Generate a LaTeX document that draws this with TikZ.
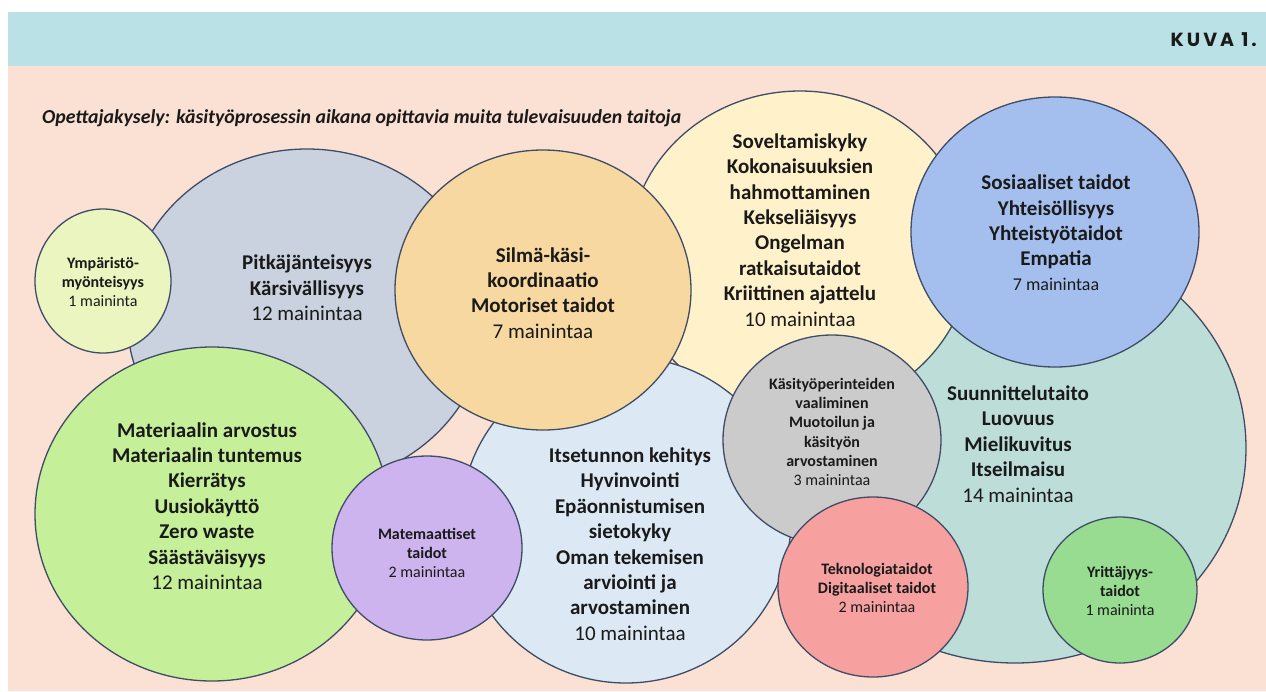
\documentclass[tikz,border=0pt]{standalone}
\usepackage{fontspec}
\setmainfont{Carlito}
\newfontfamily\kuvafont[LetterSpace=16]{Poppins}
\definecolor{hdr}{HTML}{BAE2E6}
\definecolor{bg}{HTML}{FAE1D4}
\definecolor{outl}{HTML}{3E4C66}
\definecolor{txt}{HTML}{1A1A1A}
\definecolor{cteal}{HTML}{BCDDD8}
\definecolor{cyel}{HTML}{FFF1C9}
\definecolor{cgreyb}{HTML}{C9D2DE}
\definecolor{cymp}{HTML}{EBF5C0}
\definecolor{cgreen}{HTML}{C5EF98}
\definecolor{clblue}{HTML}{DCE9F5}
\definecolor{corange}{HTML}{F6D8A0}
\definecolor{cpurple}{HTML}{CDB4EF}
\definecolor{cblue}{HTML}{A4BFEE}
\definecolor{cgreys}{HTML}{CBCBCB}
\definecolor{cpink}{HTML}{F6A0A0}
\definecolor{cyrit}{HTML}{98DC92}
\begin{document}
\begin{tikzpicture}[x=1pt,y=-1pt,
  circ/.style={draw=outl, line width=1.3pt},
  bigtext/.style={align=center, inner sep=0pt, text=txt, font=\fontsize{21pt}{25.4pt}\selectfont\bfseries},
  smalltext/.style={align=center, inner sep=0pt, text=txt, font=\fontsize{16pt}{19.3pt}\selectfont\bfseries}]
\useasboundingbox (0,0) rectangle (1266,691);
\fill[white] (0,0) rectangle (1266,691);
\fill[hdr] (8,12) rectangle (1266,66);
\fill[bg] (8,66) rectangle (1266,691);
\node[anchor=east, inner sep=0pt, text=txt, font=\kuvafont\fontsize{19pt}{22pt}\selectfont\bfseries] (kuva) at (1257,40) {KUVA 1.};
\node[anchor=west, inner sep=0pt, text=txt, font=\fontsize{19.8pt}{23pt}\selectfont\bfseries\itshape] (title) at (42,118) {Opettajakysely: käsityöprosessin aikana opittavia muita tulevaisuuden taitoja};
% circles, back to front
\draw[circ, fill=cteal] (1015,448) ellipse [x radius=231pt, y radius=215pt];
\draw[circ, fill=cyel] (800,252) ellipse [x radius=171pt, y radius=161pt];
\draw[circ, fill=cgreyb] (307,317) ellipse [x radius=180pt, y radius=168pt];
\draw[circ, fill=cymp] (103,281) ellipse [x radius=68pt, y radius=72pt];
\draw[circ, fill=cgreen] (212,514) ellipse [x radius=177pt, y radius=167pt];
\draw[circ, fill=clblue] (626,520) ellipse [x radius=165pt, y radius=163pt];
\draw[circ, fill=corange] (543,290) ellipse [x radius=148pt, y radius=140pt];
\draw[circ, fill=cpurple] (427,548) ellipse [x radius=95pt, y radius=92pt];
\draw[circ, fill=cblue] (1055,232) ellipse [x radius=144pt, y radius=135pt];
\draw[circ, fill=cgreys] (832,440) ellipse [x radius=109pt, y radius=105pt];
\draw[circ, fill=cpink] (873,587) ellipse [x radius=95pt, y radius=90pt];
\draw[circ, fill=cyrit] (1120,590) ellipse [x radius=77pt, y radius=73pt];
% texts
\node[smalltext] (ymp) at (103,282) {Ympäristö-\\myönteisyys\\{\mdseries 1 maininta}};
\node[bigtext] (pitka) at (307,288) {Pitkäjänteisyys\\Kärsivällisyys\\{\mdseries 12 mainintaa}};
\node[bigtext] (silma) at (543,293) {Silmä-käsi-\\koordinaatio\\Motoriset taidot\\{\mdseries 7 mainintaa}};
\node[bigtext] (sovel) at (800,230) {Soveltamiskyky\\Kokonaisuuksien\\hahmottaminen\\Kekseliäisyys\\Ongelman\\ratkaisutaidot\\Kriittinen ajattelu\\{\mdseries 10 mainintaa}};
\node[bigtext] (sosi) at (1056,222) {Sosiaaliset taidot\\Yhteisöllisyys\\Yhteistyötaidot\\Empatia};
\node[inner sep=0pt, text=txt, font=\fontsize{18pt}{21pt}\selectfont] (sosicount) at (1056,284) {7 mainintaa};
\node[bigtext] (mater) at (207,506) {Materiaalin arvostus\\Materiaalin tuntemus\\Kierrätys\\Uusiokäyttö\\Zero waste\\Säästäväisyys\\{\mdseries 12 mainintaa}};
\node[smalltext] (matem) at (427,553) {Matemaattiset\\taidot\\{\mdseries 2 mainintaa}};
\node[bigtext] (itse) at (630,544) {Itsetunnon kehitys\\Hyvinvointi\\Epäonnistumisen\\sietokyky\\Oman tekemisen\\arviointi ja\\arvostaminen\\{\mdseries 10 mainintaa}};
\node[smalltext] (kasi) at (832,432) {Käsityöperinteiden\\vaaliminen\\Muotoilun ja\\käsityön\\arvostaminen\\{\mdseries 3 mainintaa}};
\node[bigtext] (suun) at (1018,444) {Suunnittelutaito\\Luovuus\\Mielikuvitus\\Itseilmaisu\\{\mdseries 14 mainintaa}};
\node[smalltext] (tekno) at (877,588) {Teknologiataidot\\Digitaaliset taidot\\{\mdseries 2 mainintaa}};
\node[smalltext] (yritt) at (1120,591) {Yrittäjyys-\\taidot\\{\mdseries 1 maininta}};
\end{tikzpicture}
\end{document}
